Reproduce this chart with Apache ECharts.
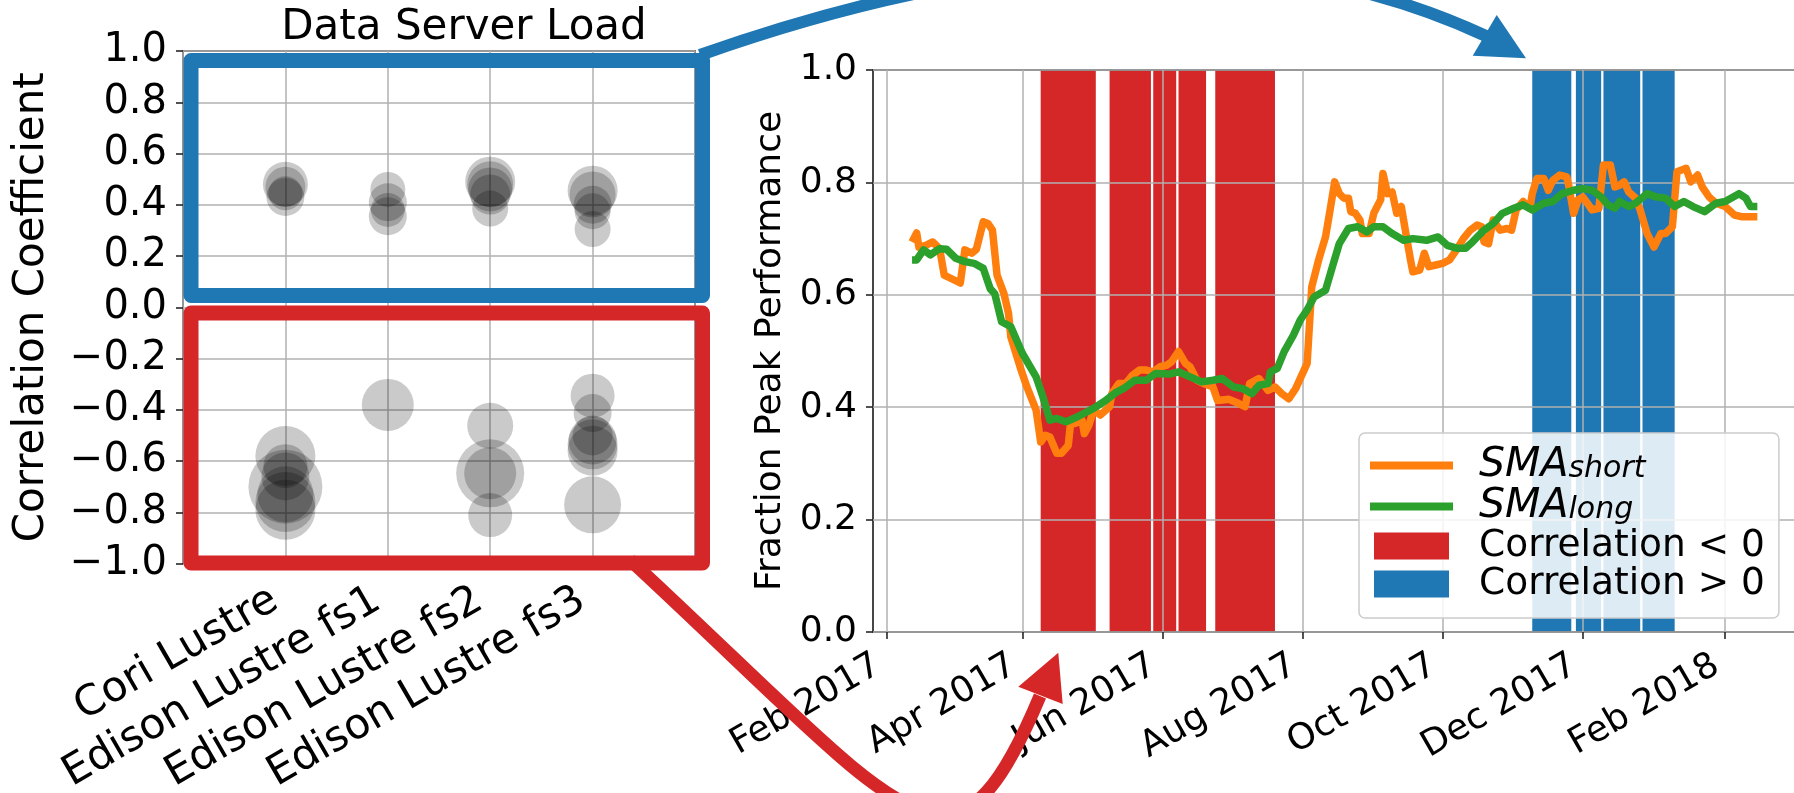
<!DOCTYPE html>
<html>
<head>
<meta charset="utf-8">
<script src="https://cdn.jsdelivr.net/npm/echarts@6/dist/echarts.min.js"></script>
<style>
html,body{margin:0;padding:0;background:#fff;}
#chart{width:1794px;height:793px;}
</style>
</head>
<body>
<div id="chart"></div>
<script>
// ---------- Left panel: correlation bubbles ----------
const categories = ['Cori Lustre', 'Edison Lustre fs1', 'Edison Lustre fs2', 'Edison Lustre fs3'];
// index into categories, correlation coefficient, bubble weight (marker diameter)
const bubbleSystem = [0,0,0,0, 1,1,1,1, 2,2,2,2,2, 3,3,3,3,3,
                      0,0,0,0,0,0,0, 1, 2,2,2,2, 3,3,3,3,3,3,3];
const bubbleCorr = [0.48,0.47,0.445,0.43, 0.46,0.41,0.38,0.355, 0.49,0.48,0.46,0.44,0.385, 0.455,0.44,0.40,0.375,0.305,
                    -0.58,-0.62,-0.66,-0.70,-0.73,-0.76,-0.79, -0.381, -0.462,-0.648,-0.648,-0.811,
                    -0.345,-0.413,-0.50,-0.52,-0.535,-0.56,-0.771];
const bubbleWeight = [45,40,34,38, 35,38,34,38, 50,46,44,40,36, 50,46,38,36,36,
                      60,44,48,74,56,60,60, 52, 46,68,52,44,
                      44,38,40,48,50,50,57];
const corrTicks = [-1,-0.8,-0.6,-0.4,-0.2,0,0.2,0.4,0.6,0.8,1];

// ---------- Right panel: time series ----------
const shortDates = ['2017-02-12','2017-02-14','2017-02-15','2017-02-18','2017-02-21','2017-02-24','2017-02-26','2017-03-01','2017-03-05','2017-03-07','2017-03-10','2017-03-12','2017-03-15','2017-03-17','2017-03-19','2017-03-21','2017-03-24','2017-03-26','2017-03-27','2017-03-31','2017-04-03','2017-04-07','2017-04-09','2017-04-11','2017-04-13','2017-04-16','2017-04-18','2017-04-21','2017-04-22','2017-04-24','2017-04-27','2017-04-28','2017-04-30','2017-05-02','2017-05-05','2017-05-09','2017-05-10','2017-05-13','2017-05-16','2017-05-19','2017-05-22','2017-05-25','2017-05-28','2017-05-31','2017-06-03','2017-06-05','2017-06-08','2017-06-11','2017-06-13','2017-06-16','2017-06-19','2017-06-23','2017-06-25','2017-06-30','2017-07-04','2017-07-07','2017-07-09','2017-07-13','2017-07-17','2017-07-20','2017-07-23','2017-07-26','2017-07-29','2017-08-03','2017-08-05','2017-08-08','2017-08-11','2017-08-13','2017-08-15','2017-08-17','2017-08-19','2017-08-21','2017-08-22','2017-08-24','2017-08-26','2017-08-27','2017-08-30','2017-09-01','2017-09-04','2017-09-05','2017-09-07','2017-09-09','2017-09-11','2017-09-13','2017-09-15','2017-09-17','2017-09-18','2017-09-21','2017-09-23','2017-09-25','2017-09-28','2017-10-01','2017-10-04','2017-10-07','2017-10-10','2017-10-13','2017-10-16','2017-10-18','2017-10-19','2017-10-21','2017-10-23','2017-10-26','2017-10-29','2017-10-31','2017-11-02','2017-11-05','2017-11-08','2017-11-09','2017-11-11','2017-11-14','2017-11-16','2017-11-18','2017-11-21','2017-11-24','2017-11-25','2017-11-27','2017-11-29','2017-12-01','2017-12-03','2017-12-05','2017-12-08','2017-12-10','2017-12-13','2017-12-15','2017-12-17','2017-12-19','2017-12-21','2017-12-24','2017-12-26','2017-12-29','2018-01-01','2018-01-04','2018-01-06','2018-01-09','2018-01-11','2018-01-15','2018-01-17','2018-01-20','2018-01-22','2018-01-25','2018-01-28','2018-02-01','2018-02-05','2018-02-08','2018-02-15'];
const shortVals = [0.694,0.71,0.685,0.688,0.694,0.682,0.635,0.629,0.621,0.680,0.674,0.681,0.730,0.727,0.715,0.635,0.602,0.567,0.525,0.472,0.436,0.395,0.338,0.350,0.347,0.318,0.318,0.332,0.371,0.371,0.377,0.353,0.368,0.395,0.386,0.401,0.424,0.442,0.442,0.457,0.466,0.466,0.463,0.472,0.475,0.481,0.499,0.478,0.472,0.448,0.442,0.436,0.412,0.414,0.407,0.401,0.442,0.451,0.430,0.436,0.424,0.415,0.433,0.478,0.614,0.662,0.703,0.751,0.801,0.780,0.772,0.772,0.748,0.745,0.733,0.709,0.709,0.745,0.769,0.816,0.780,0.783,0.745,0.757,0.709,0.662,0.641,0.644,0.674,0.650,0.653,0.656,0.662,0.680,0.700,0.715,0.724,0.721,0.694,0.691,0.733,0.715,0.718,0.715,0.751,0.766,0.754,0.780,0.807,0.807,0.786,0.804,0.813,0.810,0.792,0.745,0.769,0.774,0.763,0.751,0.754,0.831,0.831,0.792,0.795,0.801,0.783,0.772,0.751,0.709,0.685,0.709,0.709,0.721,0.819,0.825,0.801,0.813,0.792,0.774,0.763,0.757,0.742,0.739,0.739];

const longDates = ['2017-02-12','2017-02-14','2017-02-17','2017-02-20','2017-02-24','2017-02-27','2017-03-03','2017-03-07','2017-03-11','2017-03-15','2017-03-18','2017-03-20','2017-03-23','2017-03-27','2017-04-01','2017-04-07','2017-04-10','2017-04-13','2017-04-16','2017-04-20','2017-04-25','2017-05-02','2017-05-07','2017-05-12','2017-05-15','2017-05-20','2017-05-25','2017-05-29','2017-06-04','2017-06-08','2017-06-13','2017-06-18','2017-06-23','2017-06-27','2017-07-02','2017-07-06','2017-07-10','2017-07-13','2017-07-17','2017-07-18','2017-07-21','2017-07-24','2017-07-28','2017-07-31','2017-08-03','2017-08-06','2017-08-11','2017-08-14','2017-08-17','2017-08-21','2017-08-25','2017-08-29','2017-09-01','2017-09-05','2017-09-09','2017-09-14','2017-09-18','2017-09-24','2017-09-29','2017-10-03','2017-10-07','2017-10-11','2017-10-14','2017-10-19','2017-10-23','2017-10-27','2017-11-01','2017-11-05','2017-11-09','2017-11-14','2017-11-18','2017-11-22','2017-11-27','2017-12-01','2017-12-05','2017-12-09','2017-12-12','2017-12-15','2017-12-17','2017-12-21','2017-12-24','2017-12-29','2018-01-02','2018-01-06','2018-01-10','2018-01-14','2018-01-18','2018-01-23','2018-01-28','2018-02-01','2018-02-07','2018-02-10','2018-02-12','2018-02-15'];
const longVals = [0.662,0.662,0.680,0.671,0.682,0.681,0.665,0.659,0.656,0.647,0.611,0.602,0.552,0.543,0.496,0.454,0.418,0.377,0.380,0.374,0.383,0.398,0.411,0.427,0.433,0.448,0.448,0.460,0.459,0.463,0.454,0.445,0.448,0.451,0.436,0.433,0.424,0.439,0.442,0.463,0.469,0.499,0.528,0.555,0.573,0.596,0.608,0.650,0.691,0.718,0.721,0.712,0.721,0.721,0.709,0.697,0.700,0.697,0.703,0.688,0.683,0.683,0.694,0.715,0.727,0.745,0.754,0.760,0.751,0.763,0.766,0.780,0.786,0.789,0.786,0.774,0.760,0.754,0.766,0.757,0.763,0.780,0.774,0.772,0.757,0.766,0.757,0.748,0.763,0.766,0.780,0.772,0.757,0.757];

const negBands = [['2017-04-09','2017-05-03'],['2017-05-09','2017-05-27'],['2017-05-28','2017-06-07'],['2017-06-08','2017-06-20'],['2017-06-24','2017-07-20']];
const posBands = [['2017-11-09','2017-11-26'],['2017-11-28','2017-12-09'],['2017-12-10','2017-12-26'],['2017-12-27','2018-01-10']];

const dateTicks = ['2017-02-01','2017-04-01','2017-06-01','2017-08-01','2017-10-01','2017-12-01','2018-02-01'];
const dateTickLabels = ['Feb 2017','Apr 2017','Jun 2017','Aug 2017','Oct 2017','Dec 2017','Feb 2018'];
const fracTicks = [0,0.2,0.4,0.6,0.8,1];

// ---------- helpers ----------
const ts = s => { const p = s.split('-').map(Number); return Date.UTC(p[0], p[1]-1, p[2]); };
const fmt1 = v => { let s = (Math.abs(v) < 1e-9 ? 0 : v).toFixed(1); return s.replace('-', '\u2212'); };
const FONT = 'DejaVu Sans';
const GRIDC = '#b0b0b0';
const SPINE = '#1a1a1a';

const tickTs = dateTicks.map(ts);
const bubbleData = bubbleSystem.map((c, i) => [c + 1, bubbleCorr[i], bubbleWeight[i]]);
const shortData = shortDates.map((d, i) => [ts(d), shortVals[i]]);
const longData = longDates.map((d, i) => [ts(d), longVals[i]]);
const bandData = arr => arr.map(b => [ts(b[0]), ts(b[1]), 1]);

function bandRenderer(color) {
  return function (params, api) {
    const a = api.coord([api.value(0), 1]);
    const b = api.coord([api.value(1), 0]);
    return { type: 'rect', shape: { x: a[0], y: a[1], width: b[0] - a[0], height: b[1] - a[1] }, style: { fill: color } };
  };
}

// legend icons: bounding box 83x27 kept by the leading moves
const LINE_ICON = 'path://M0,0 M83,27 M0,9.4 L83,9.4 L83,17.6 L0,17.6 Z';
const BOX_ICON = 'path://M0,0 M83,27 M4,0 L79,0 L79,27 L4,27 Z';

const legendRich = {
  'SMA short': '{g|}{i|SMA}{s|short}',
  'SMA long': '{g|}{i|SMA}{s|long}',
  'Correlation < 0': '{g|}{c|Correlation < 0}',
  'Correlation > 0': '{g|}{c|Correlation > 0}'
};

const chart = echarts.init(document.getElementById('chart'), null, { renderer: 'canvas' });
chart.setOption({
  animation: false,
  backgroundColor: '#ffffff',
  textStyle: { fontFamily: FONT, color: '#000' },
  grid: [
    { left: 183, top: 51, width: 512, height: 512.5, show: true, borderColor: SPINE, borderWidth: 1.6, backgroundColor: 'transparent', outerBoundsMode: 'none', containLabel: false },
    { left: 873, top: 70, width: 928, height: 562, show: true, borderColor: SPINE, borderWidth: 1.6, backgroundColor: 'transparent', outerBoundsMode: 'none', containLabel: false }
  ],
  xAxis: [
    {
      type: 'category', gridIndex: 0, data: [''].concat(categories, ['']), boundaryGap: false,
      axisLine: { show: false },
      axisTick: { show: true, length: 7, lineStyle: { color: SPINE, width: 1.5 }, interval: (i) => i >= 1 && i <= categories.length },
      splitLine: { show: true, interval: 0, lineStyle: { color: GRIDC, width: 1.5 } },
      axisLabel: { interval: 0, rotate: 30, fontSize: 42, fontFamily: FONT, color: '#000', margin: 28, padding: [0, 12, 0, 0] }
    },
    {
      type: 'value', gridIndex: 1, min: ts('2017-01-26'), max: ts('2018-03-06'),
      axisLine: { show: false },
      axisTick: { show: true, length: 7, lineStyle: { color: SPINE, width: 1.5 }, customValues: tickTs },
      splitLine: { show: true, lineStyle: { color: GRIDC, width: 1.5 } },
      axisLabel: {
        customValues: tickTs, rotate: 30, fontSize: 36, fontFamily: FONT, color: '#000', margin: 26, padding: [0, 10, 0, 0],
        hideOverlap: false, showMinLabel: true, showMaxLabel: true,
        formatter: (v) => { for (let i = 0; i < tickTs.length; i++) { if (Math.abs(v - tickTs[i]) < 43200000) return dateTickLabels[i]; } return ''; }
      }
    }
  ],
  yAxis: [
    {
      type: 'value', gridIndex: 0, min: corrTicks[0], max: corrTicks[corrTicks.length - 1], interval: 0.2,
      name: 'Correlation Coefficient', nameLocation: 'middle', nameGap: 130,
      nameTextStyle: { fontSize: 42, fontFamily: FONT, color: '#000' },
      axisLine: { show: false },
      axisTick: { show: true, length: 7, lineStyle: { color: SPINE, width: 1.5 } },
      splitLine: { show: true, lineStyle: { color: GRIDC, width: 1.5 } },
      axisLabel: { fontSize: 40, fontFamily: FONT, color: '#000', margin: 16, formatter: fmt1, showMinLabel: true, showMaxLabel: true }
    },
    {
      type: 'value', gridIndex: 1, min: fracTicks[0], max: fracTicks[fracTicks.length - 1], interval: 0.2,
      name: 'Fraction Peak Performance', nameLocation: 'middle', nameGap: 80,
      nameTextStyle: { fontSize: 36, fontFamily: FONT, color: '#000' },
      axisLine: { show: false },
      axisTick: { show: true, length: 7, lineStyle: { color: SPINE, width: 1.5 } },
      splitLine: { show: true, lineStyle: { color: GRIDC, width: 1.5 } },
      axisLabel: { fontSize: 36, fontFamily: FONT, color: '#000', margin: 16, formatter: fmt1, showMinLabel: true, showMaxLabel: true }
    }
  ],
  legend: {
    orient: 'vertical', left: 1359, top: 433, selectedMode: false,
    itemWidth: 83, itemHeight: 27, itemGap: 0, symbolKeepAspect: false,
    padding: [12, 14, 15, 11],
    backgroundColor: 'rgba(255,255,255,0.85)', borderColor: '#cccccc', borderWidth: 1.5, borderRadius: 6,
    data: [
      { name: 'SMA short', icon: LINE_ICON, itemStyle: { color: '#ff7f0e', borderWidth: 0 } },
      { name: 'SMA long', icon: LINE_ICON, itemStyle: { color: '#2ca02c', borderWidth: 0 } },
      { name: 'Correlation < 0', icon: BOX_ICON, itemStyle: { color: '#d62728', borderWidth: 0 } },
      { name: 'Correlation > 0', icon: BOX_ICON, itemStyle: { color: '#1f77b4', borderWidth: 0 } }
    ],
    formatter: (name) => legendRich[name],
    textStyle: {
      fontFamily: FONT, color: '#000', fontSize: 37, lineHeight: 38,
      rich: {
        g: { width: 21, lineHeight: 38 },
        i: { fontSize: 41, fontStyle: 'italic', fontFamily: FONT, lineHeight: 38, verticalAlign: 'middle' },
        s: { fontSize: 30, fontStyle: 'italic', fontFamily: FONT, lineHeight: 18, verticalAlign: 'bottom' },
        c: { fontSize: 37.5, fontFamily: FONT, lineHeight: 38, verticalAlign: 'middle' }
      }
    }
  },
  series: [
    {
      type: 'scatter', xAxisIndex: 0, yAxisIndex: 0, data: bubbleData,
      symbolSize: (v) => v[2], silent: true,
      itemStyle: { color: 'rgba(0,0,0,0.26)' }, emphasis: { disabled: true }
    },
    {
      type: 'custom', name: 'Correlation < 0', xAxisIndex: 1, yAxisIndex: 1, z: -1,
      data: bandData(negBands), encode: { x: [0, 1], y: 2 }, renderItem: bandRenderer('#d62728'),
      itemStyle: { color: '#d62728' }, silent: true
    },
    {
      type: 'custom', name: 'Correlation > 0', xAxisIndex: 1, yAxisIndex: 1, z: -1,
      data: bandData(posBands), encode: { x: [0, 1], y: 2 }, renderItem: bandRenderer('#1f77b4'),
      itemStyle: { color: '#1f77b4' }, silent: true
    },
    {
      type: 'line', name: 'SMA short', xAxisIndex: 1, yAxisIndex: 1, data: shortData, z: 3,
      symbol: 'none', lineStyle: { color: '#ff7f0e', width: 7.5, join: 'round' }, itemStyle: { color: '#ff7f0e' }, silent: true
    },
    {
      type: 'line', name: 'SMA long', xAxisIndex: 1, yAxisIndex: 1, data: longData, z: 4,
      symbol: 'none', lineStyle: { color: '#2ca02c', width: 7.5, join: 'round' }, itemStyle: { color: '#2ca02c' }, silent: true
    }
  ],
  graphic: [
    { type: 'text', x: 464, y: 28, z: 50, style: { text: 'Data Server Load', fontSize: 42, fontFamily: FONT, fill: '#000', align: 'center', verticalAlign: 'middle', textAlign: 'center', textVerticalAlign: 'middle' } },
    { type: 'rect', z: 60, shape: { x: 191, y: 60.5, width: 511.5, height: 235 }, style: { fill: null, stroke: '#1f77b4', lineWidth: 15, lineJoin: 'round' } },
    { type: 'rect', z: 60, shape: { x: 191, y: 313, width: 511.5, height: 250 }, style: { fill: null, stroke: '#d62728', lineWidth: 15, lineJoin: 'round' } },
    { type: 'bezierCurve', z: 61, shape: { x1: 700, y1: 55, cpx1: 1170, cpy1: -111, x2: 1486, y2: 36 }, style: { fill: null, stroke: '#1f77b4', lineWidth: 12 } },
    { type: 'polygon', z: 62, shape: { points: [[1472.7, 55.7], [1496.7, 15], [1526, 58.3]] }, style: { fill: '#1f77b4' } },
    { type: 'bezierCurve', z: 61, shape: { x1: 630, y1: 560, cpx1: 909.7, cpy1: 819, cpx2: 951.5, cpy2: 907.3, x2: 1040, y2: 696 }, style: { fill: null, stroke: '#d62728', lineWidth: 13 } },
    { type: 'polygon', z: 62, shape: { points: [[1018.3, 686.7], [1058.3, 652.7], [1062.7, 704]] }, style: { fill: '#d62728' } }
  ]
});
</script>
</body>
</html>
